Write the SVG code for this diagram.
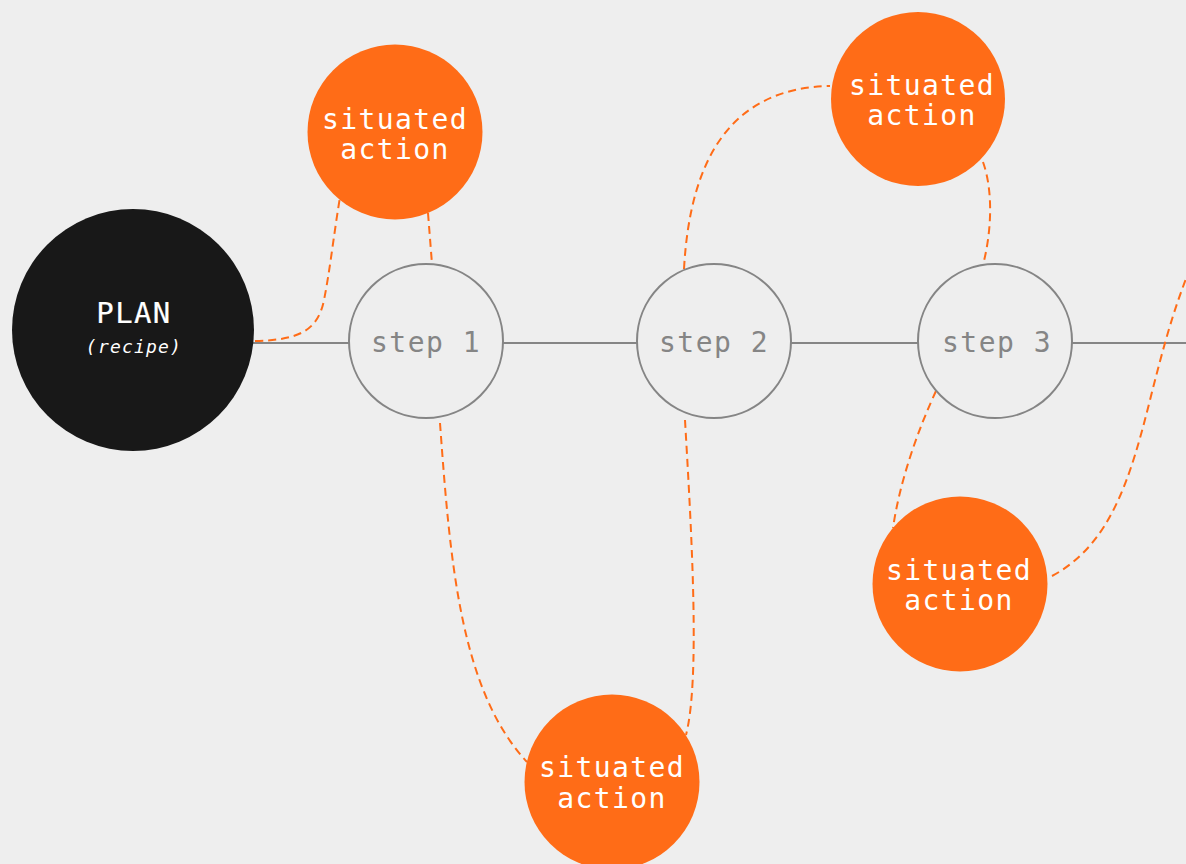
<svg xmlns="http://www.w3.org/2000/svg" width="1186" height="864" viewBox="0 0 1186 864">
  <style>
    .bg { fill: #eeeeee; }
    .axis { stroke: #858585; stroke-width: 2; fill: none; }
    .step { fill: #eeeeee; stroke: #858585; stroke-width: 2; }
    .action { fill: #ff6c17; }
    .plan { fill: #181818; }
    .link { stroke: #ff6c17; stroke-width: 2; fill: none; stroke-dasharray: 8 5; }
    .t { font-family: "DejaVu Sans Mono", "Liberation Mono", monospace; text-anchor: middle; }
    .act-label { fill: #ffffff; font-size: 28px; letter-spacing: 1.4px; }
    .step-label { fill: #858585; font-size: 28px; letter-spacing: 1.5px; }
    .plan-label { fill: #ffffff; font-size: 29px; letter-spacing: 1.4px; stroke: #ffffff; stroke-width: 0.2; }
    .plan-sub { fill: #ffffff; font-size: 18px; letter-spacing: 1.2px; font-style: italic; }
  </style>

  <rect class="bg" x="0" y="0" width="1186" height="864"/>

  <!-- main axis running through the plan steps -->
  <g id="axis">
    <line class="axis" x1="250" y1="343" x2="1186" y2="343"/>
  </g>

  <!-- dashed links between steps and situated actions -->
  <g id="connectors">
    <path class="link" d="M255,341 C300,340 318,330 324,300 S333,240 340,197"/>
    <path class="link" d="M428,213 L432,264"/>
    <path class="link" d="M440,423 C450,560 460,690 527,762"/>
    <path class="link" d="M685,420 C692,540 700,680 686,735"/>
    <path class="link" d="M684,269 C690,160 730,88 830,86"/>
    <path class="link" d="M983,162 C993,190 992,230 983,265"/>
    <path class="link" d="M936,391 C918,430 900,480 893,528"/>
    <path class="link" d="M1052,576 C1110,545 1130,480 1150,400 S1178,300 1190,268"/>
  </g>

  <g id="plan">
    <circle class="plan" cx="133" cy="330" r="121"/>
    <text class="t plan-label" x="134" y="323">PLAN</text>
    <text class="t plan-sub" x="134" y="353">(recipe)</text>
  </g>

  <g id="step1">
    <circle class="step" cx="426" cy="341" r="77"/>
    <text class="t step-label" x="426" y="352">step 1</text>
  </g>

  <g id="step2">
    <circle class="step" cx="714" cy="341" r="77"/>
    <text class="t step-label" x="714" y="352">step 2</text>
  </g>

  <g id="step3">
    <circle class="step" cx="995" cy="341" r="77"/>
    <text class="t step-label" x="997" y="352">step 3</text>
  </g>

  <g id="action1">
    <circle class="action" cx="395" cy="132" r="87.5"/>
    <text class="t act-label" x="395" y="129">situated</text>
    <text class="t act-label" x="395" y="159">action</text>
  </g>

  <g id="action2">
    <circle class="action" cx="918" cy="99" r="87"/>
    <text class="t act-label" x="922" y="95">situated</text>
    <text class="t act-label" x="922" y="125">action</text>
  </g>

  <g id="action3">
    <circle class="action" cx="960" cy="584" r="87.5"/>
    <text class="t act-label" x="959" y="580">situated</text>
    <text class="t act-label" x="959" y="610">action</text>
  </g>

  <g id="action4">
    <circle class="action" cx="612" cy="782" r="87.5"/>
    <text class="t act-label" x="612" y="777">situated</text>
    <text class="t act-label" x="612" y="808">action</text>
  </g>
</svg>
